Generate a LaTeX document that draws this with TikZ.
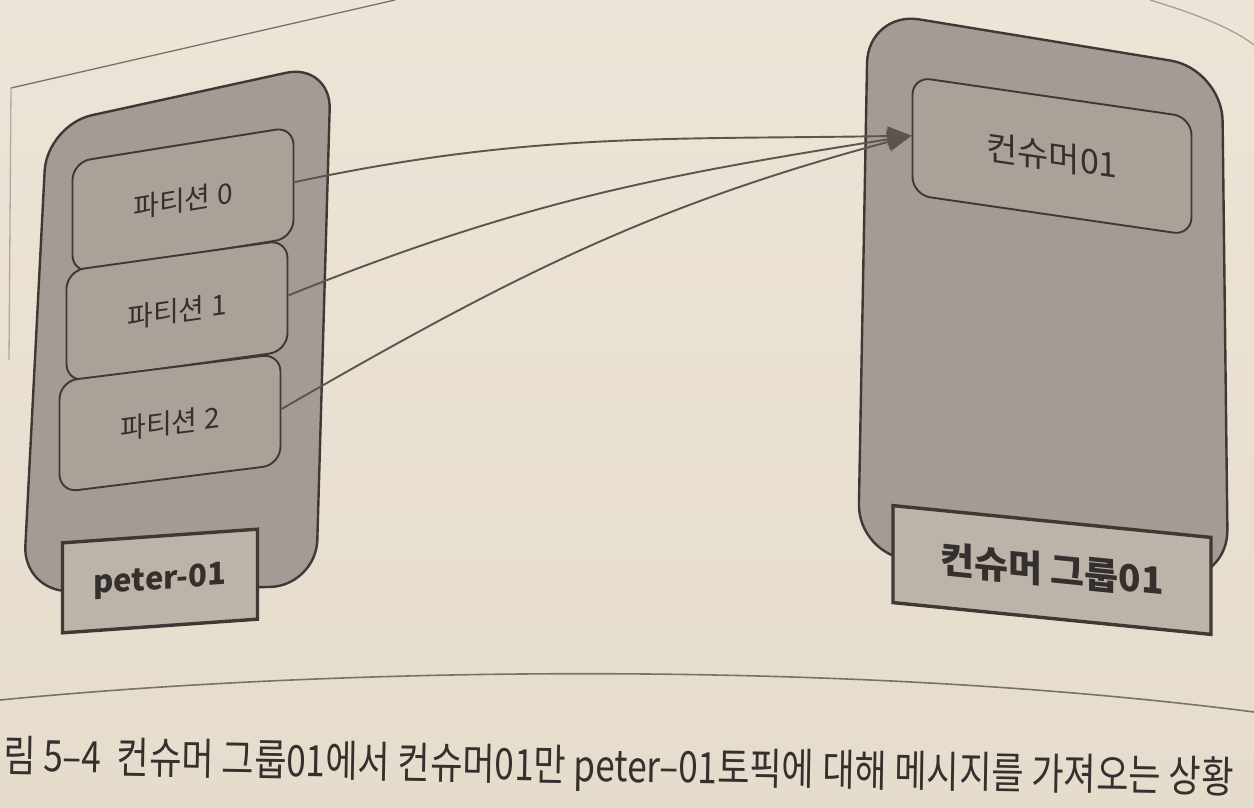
\documentclass[tikz,border=0pt]{standalone}
\usepackage{fontspec}
\usetikzlibrary{arrows.meta}
\newfontfamily\cjk{Noto Sans CJK KR}
\definecolor{pagetop}{HTML}{ECE4D6}
\definecolor{pagebot}{HTML}{E5DCCC}
\definecolor{grpfill}{HTML}{A39C94}
\definecolor{partfill}{HTML}{A9A299}
\definecolor{lblfill}{HTML}{BCB4A9}
\definecolor{edge}{HTML}{3E3935}
\definecolor{ink}{HTML}{35302D}
\definecolor{arrowc}{HTML}{5C544E}
\definecolor{framec}{HTML}{7A7168}
\tikzset{
  grpbox/.style={draw=edge, line width=2.4pt, fill=grpfill, rounded corners=46pt},
  partbox/.style={draw=edge, line width=1.9pt, fill=partfill, rounded corners=18pt, inner sep=0pt,
     minimum width=221pt, minimum height=111pt, text=ink, font=\cjk\fontsize{28pt}{30pt}\selectfont},
  lblbox/.style={draw=edge, line width=3.4pt, fill=lblfill, inner sep=0pt, text=ink,
     font=\cjk\bfseries\fontsize{31pt}{34pt}\selectfont},
  arr/.style={draw=arrowc, line width=1.9pt, -{Triangle[length=24pt,width=19pt]}},
  framel/.style={draw=framec, line width=1.3pt}
}
\begin{document}
\begin{tikzpicture}[x=1pt,y=-1pt]
\useasboundingbox (0,0) rectangle (1254,808);
\shade[top color=pagetop,bottom color=pagebot] (0,0) rectangle (1254,808);
% page frame lines
\draw[framel] (11,88) -- (395,0);
\draw[framel, draw opacity=0.5] (11,88) -- (9,360);
\draw[framel, draw opacity=0.6] (1150,0) .. controls (1200,15) and (1235,30) .. (1254,45);
\draw[framel, line width=1.6pt] (0,700) .. controls (350,666) and (850,660) .. (1254,712);
% left group (topic)
\draw[grpbox] (47,125) -- (331,63) -- (316,586) -- (23,592) -- cycle;
\node[partbox, yslant=0.16]  (p0) at (183,200) {파티션 0};
\node[partbox, yslant=0.14]  (p1) at (177,311) {파티션 1};
\node[partbox, yslant=0.125] (p2) at (170,423) {파티션 2};
\node[lblbox, yslant=0.07, minimum width=195pt, minimum height=90pt] (tlabel) at (160,581) {peter-01};
% right group (consumer group)
\draw[grpbox, rounded corners=52pt] (868,11) -- (1222,69) -- (1228,582) -- (858,556) -- cycle;
\node[partbox, yslant=-0.145, minimum width=279pt, minimum height=118pt,
      font=\cjk\fontsize{34pt}{36pt}\selectfont] (c01) at (1052,156) {컨슈머01};
\node[lblbox, yslant=-0.10, minimum width=318pt, minimum height=97pt,
      font=\cjk\bfseries\fontsize{37pt}{40pt}\selectfont] (glabel) at (1052,570) {컨슈머 그룹01};
% connectors
\draw[arr] (p0.east) to[out=12, in=181] (c01.west);
\draw[arr] (p1.east) to[out=22, in=189] (c01.west);
\draw[arr] (p2.east) to[out=30, in=195] (c01.west);
% caption
\node[anchor=west, text=ink, rotate=-1] (cap) at (0,758)
  {\resizebox*{1230pt}{46pt}{\cjk 림 5–4\ \ 컨슈머 그룹01에서 컨슈머01만 peter–01토픽에 대해 메시지를 가져오는 상황}};
\end{tikzpicture}
\end{document}
